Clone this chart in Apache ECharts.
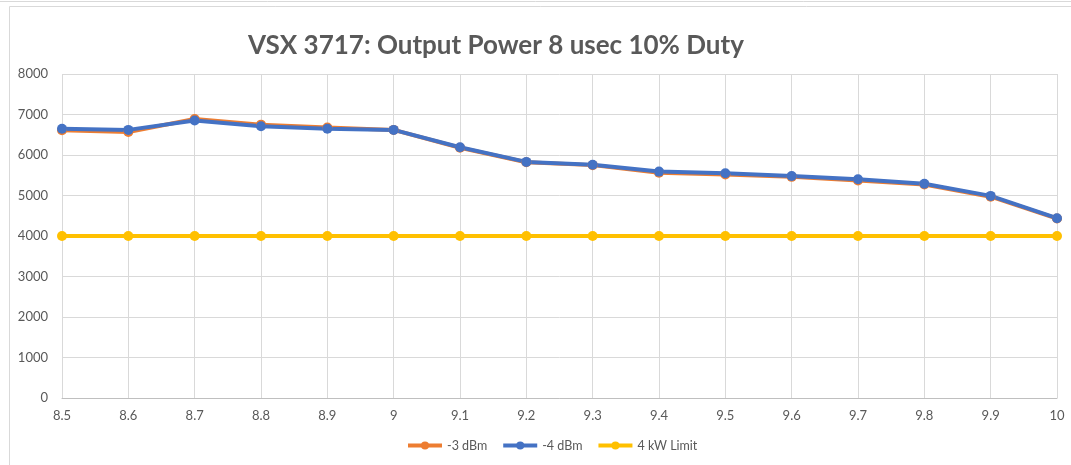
<!DOCTYPE html>
<html>
<head>
<meta charset="utf-8">
<script src="https://cdn.jsdelivr.net/npm/echarts@6/dist/echarts.min.js"></script>
<style>
  html, body { margin: 0; padding: 0; background: #fff; }
  #chart { width: 1071px; height: 465px; }
</style>
</head>
<body>
<div id="chart"></div>
<script>
const frequencies = ['8.5', '8.6', '8.7', '8.8', '8.9', '9', '9.1', '9.2', '9.3', '9.4', '9.5', '9.6', '9.7', '9.8', '9.9', '10'];
const minus3dBm = [6610, 6570, 6890, 6750, 6680, 6620, 6180, 5820, 5750, 5560, 5520, 5460, 5370, 5270, 4970, 4430];
const minus4dBm = [6650, 6620, 6850, 6710, 6650, 6620, 6190, 5830, 5760, 5590, 5550, 5480, 5400, 5290, 4990, 4440];
const limit4kW = [4000, 4000, 4000, 4000, 4000, 4000, 4000, 4000, 4000, 4000, 4000, 4000, 4000, 4000, 4000, 4000];

const myChart = echarts.init(document.getElementById('chart'));

function lineSeries(name, color, data) {
    return {
        name: name,
        type: 'line',
        data: data,
        symbol: 'circle',
        symbolSize: 10,
        lineStyle: { color: color, width: 4 },
        itemStyle: { color: color },
        animation: false
    };
}

const option = {
    backgroundColor: '#fff',
    textStyle: { fontFamily: 'Lato' },
    title: {
        text: 'VSX 3717: Output Power 8 usec 10% Duty',
        left: 243,
        top: 28,
        textStyle: {
            fontFamily: 'Lato',
            fontSize: 26,
            fontWeight: 'bold',
            color: '#595959'
        }
    },
    legend: {
        bottom: 8,
        left: 401,
        itemWidth: 34,
        itemHeight: 10,
        itemGap: 14,
        lineStyle: { width: 4 },
        textStyle: { fontSize: 12.5, color: '#595959' },
        data: ['-3 dBm', '-4 dBm', '4 kW Limit']
    },
    grid: {
        left: 62,
        right: 14,
        top: 74,
        bottom: 67
    },
    xAxis: {
        type: 'category',
        boundaryGap: false,
        data: frequencies,
        axisLine: { lineStyle: { color: '#bfbfbf', width: 1 } },
        axisTick: { show: false },
        axisLabel: { color: '#595959', fontSize: 13, margin: 11 },
        splitLine: { show: true, lineStyle: { color: '#d9d9d9', width: 1 } }
    },
    yAxis: {
        type: 'value',
        min: 0,
        max: 8000,
        interval: 1000,
        axisLine: { show: false },
        axisTick: { show: false },
        axisLabel: { color: '#595959', fontSize: 13, margin: 14, formatter: (v) => String(v) },
        splitLine: { lineStyle: { color: '#d9d9d9', width: 1 } }
    },
    graphic: [
        {
            type: 'line',
            shape: { x1: 0, y1: 1.5, x2: 1071, y2: 1.5 },
            style: { stroke: '#d9d9d9', lineWidth: 1 }
        },
        {
            type: 'rect',
            shape: { x: 9.5, y: 6.5, width: 1100, height: 500 },
            style: { fill: 'none', stroke: '#d9d9d9', lineWidth: 1 }
        }
    ],
    series: [
        lineSeries('-3 dBm', '#ED7D31', minus3dBm),
        lineSeries('-4 dBm', '#4472C4', minus4dBm),
        lineSeries('4 kW Limit', '#FFC000', limit4kW)
    ]
};

myChart.setOption(option);
</script>
</body>
</html>
